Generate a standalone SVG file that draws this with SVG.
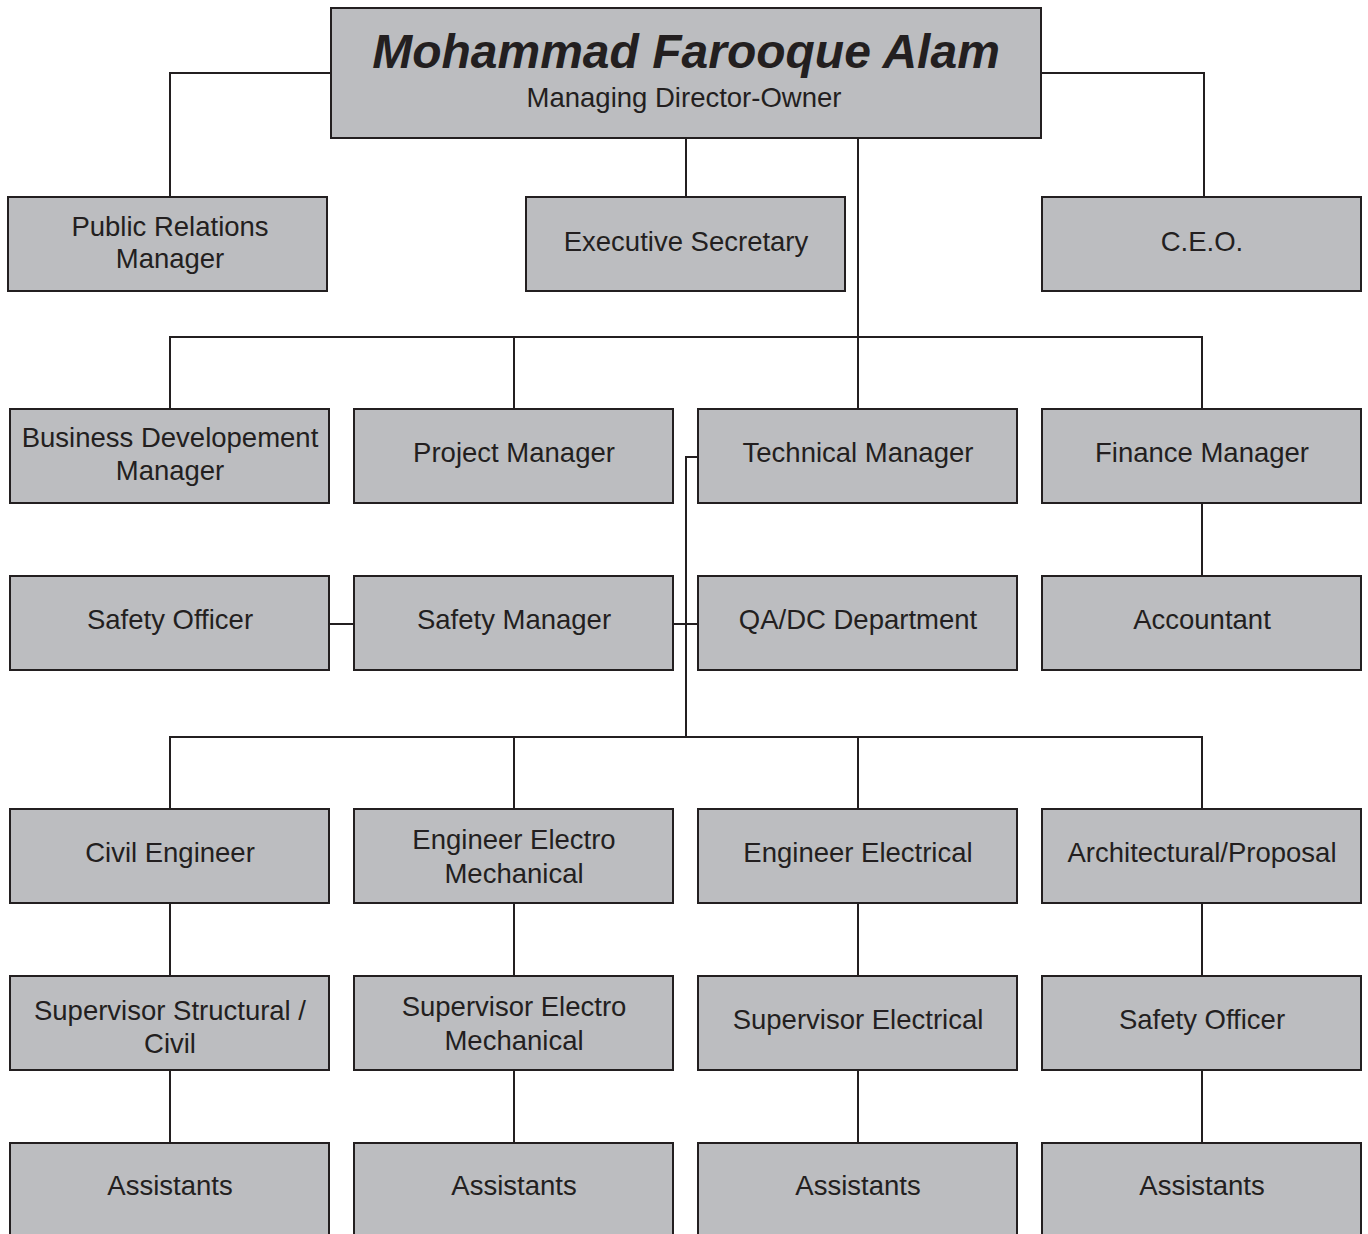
<svg xmlns="http://www.w3.org/2000/svg" width="1368" height="1234" viewBox="0 0 1368 1234">
<style>
.b{fill:#bcbdc0;stroke:#231f20;stroke-width:2}
.t{font-family:"Liberation Sans",Arial,sans-serif;font-size:27.5px;fill:#231f20;text-anchor:middle}
.h{font-family:"Liberation Sans",Arial,sans-serif;font-size:48px;font-weight:bold;font-style:italic;fill:#231f20;text-anchor:middle}
.c{fill:none;stroke:#231f20;stroke-width:2}
</style>
<rect width="1368" height="1234" fill="#ffffff"/>
<g id="connectors" class="c">
<path d="M331 73H170V197"/>
<path d="M1041 73H1204V197"/>
<path d="M686 138V197"/>
<path d="M858 138V409"/>
<path d="M170 409V337H1202V409"/>
<path d="M514 337V409"/>
<path d="M698 457H686V737"/>
<path d="M673 624H698"/>
<path d="M329 624H354"/>
<path d="M1202 503V576"/>
<path d="M170 809V737H1202V809"/>
<path d="M514 737V809"/>
<path d="M858 737V809"/>
<path d="M170 903V976M514 903V976M858 903V976M1202 903V976"/>
<path d="M170 1070V1143M514 1070V1143M858 1070V1143M1202 1070V1143"/>
</g>
<g id="md"><rect class="b" x="331" y="8" width="710" height="130"/><text class="h" x="686" y="68">Mohammad Farooque Alam</text><text class="t" x="684" y="107">Managing Director-Owner</text></g>
<g id="pr"><rect class="b" x="8" y="197" width="319" height="94"/><text class="t" x="170" y="236">Public Relations</text><text class="t" x="170" y="268">Manager</text></g>
<g id="es"><rect class="b" x="526" y="197" width="319" height="94"/><text class="t" x="686" y="251">Executive Secretary</text></g>
<g id="ceo"><rect class="b" x="1042" y="197" width="319" height="94"/><text class="t" x="1202" y="251">C.E.O.</text></g>
<g id="bd"><rect class="b" x="10" y="409" width="319" height="94"/><text class="t" x="170" y="447">Business Developement</text><text class="t" x="170" y="480">Manager</text></g>
<g id="pm"><rect class="b" x="354" y="409" width="319" height="94"/><text class="t" x="514" y="462">Project Manager</text></g>
<g id="tm"><rect class="b" x="698" y="409" width="319" height="94"/><text class="t" x="858" y="462">Technical Manager</text></g>
<g id="fm"><rect class="b" x="1042" y="409" width="319" height="94"/><text class="t" x="1202" y="462">Finance Manager</text></g>
<g id="so1"><rect class="b" x="10" y="576" width="319" height="94"/><text class="t" x="170" y="629">Safety Officer</text></g>
<g id="sm"><rect class="b" x="354" y="576" width="319" height="94"/><text class="t" x="514" y="629">Safety Manager</text></g>
<g id="qa"><rect class="b" x="698" y="576" width="319" height="94"/><text class="t" x="858" y="629">QA/DC Department</text></g>
<g id="acc"><rect class="b" x="1042" y="576" width="319" height="94"/><text class="t" x="1202" y="629">Accountant</text></g>
<g id="ce"><rect class="b" x="10" y="809" width="319" height="94"/><text class="t" x="170" y="862">Civil Engineer</text></g>
<g id="eem"><rect class="b" x="354" y="809" width="319" height="94"/><text class="t" x="514" y="849">Engineer Electro</text><text class="t" x="514" y="883">Mechanical</text></g>
<g id="ee"><rect class="b" x="698" y="809" width="319" height="94"/><text class="t" x="858" y="862">Engineer Electrical</text></g>
<g id="ap"><rect class="b" x="1042" y="809" width="319" height="94"/><text class="t" x="1202" y="862">Architectural/Proposal</text></g>
<g id="ssc"><rect class="b" x="10" y="976" width="319" height="94"/><text class="t" x="170" y="1020">Supervisor Structural /</text><text class="t" x="170" y="1053">Civil</text></g>
<g id="sem"><rect class="b" x="354" y="976" width="319" height="94"/><text class="t" x="514" y="1016">Supervisor Electro</text><text class="t" x="514" y="1050">Mechanical</text></g>
<g id="se"><rect class="b" x="698" y="976" width="319" height="94"/><text class="t" x="858" y="1029">Supervisor Electrical</text></g>
<g id="so2"><rect class="b" x="1042" y="976" width="319" height="94"/><text class="t" x="1202" y="1029">Safety Officer</text></g>
<g id="as1"><rect class="b" x="10" y="1143" width="319" height="110"/><text class="t" x="170" y="1195">Assistants</text></g>
<g id="as2"><rect class="b" x="354" y="1143" width="319" height="110"/><text class="t" x="514" y="1195">Assistants</text></g>
<g id="as3"><rect class="b" x="698" y="1143" width="319" height="110"/><text class="t" x="858" y="1195">Assistants</text></g>
<g id="as4"><rect class="b" x="1042" y="1143" width="319" height="110"/><text class="t" x="1202" y="1195">Assistants</text></g>
</svg>
